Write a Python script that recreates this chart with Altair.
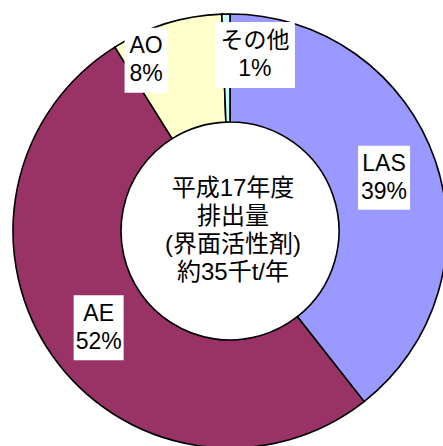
import math
import altair as alt
import pandas as pd

# ---- data ----
categories = ["LAS", "AE", "AO", "その他"]
values = [39.4, 51.7, 8.3, 0.6]
colors = ["#9999FF", "#993366", "#FFFFCC", "#CCFFFF"]
center_lines = ["平成17年度", "排出量", "(界面活性剤)", "約35千t/年"]

# ---- style / layout ----
W, H = 443, 446
CX, CY = 230, 231
R_OUT, R_IN = 217, 109
R_LABEL = (R_OUT + R_IN) / 2
label_offsets = {"LAS": (0, 0), "AE": (2, -3), "AO": (-36, 15), "その他": (28, 13)}
box_size = {"LAS": (52, 64), "AE": (50, 65), "AO": (43, 65), "その他": (80, 66)}
FONT = "Liberation Sans, Noto Sans CJK JP"
LH = 28

total = sum(values)
rows = []
cum = 0.0
for i, (c, v) in enumerate(zip(categories, values)):
    mid = (cum + v / 2) / total * 2 * math.pi
    cum += v
    ox, oy = label_offsets[c]
    lx = R_LABEL * math.sin(mid) + ox
    ly = R_LABEL * math.cos(mid) + oy
    bw, bh = box_size[c]
    rows.append({
        "cat": c, "value": v, "order": i,
        "label": f"{c}\n{round(v / total * 100)}%",
        "lx": lx, "ly": ly,
        "bx": lx - bw / 2, "bx2": lx + bw / 2,
        "by": ly - bh / 2, "by2": ly + bh / 2,
    })
df = pd.DataFrame(rows)

xs = alt.Scale(domain=[-CX, W - CX], nice=False, zero=False)
ys = alt.Scale(domain=[-(H - CY), CY], nice=False, zero=False)

base = alt.Chart(df)

arcs = base.mark_arc(stroke="black", strokeWidth=1.6).encode(
    theta=alt.Theta("value:Q", stack=True),
    order=alt.Order("order:Q"),
    color=alt.Color("cat:N", scale=alt.Scale(domain=categories, range=colors), legend=None),
    x=alt.value(CX), y=alt.value(CY),
    radius=alt.value(R_OUT), radius2=alt.value(R_IN),
)

boxes = base.mark_rect(color="white").encode(
    x=alt.X("bx:Q", scale=xs, axis=None),
    x2="bx2:Q",
    y=alt.Y("by:Q", scale=ys, axis=None),
    y2="by2:Q",
)

labels = base.mark_text(
    font=FONT, fontSize=23, color="black", lineBreak="\n", lineHeight=LH,
    align="center", baseline="middle", dy=-LH / 2,
).encode(
    x=alt.X("lx:Q", scale=xs, axis=None),
    y=alt.Y("ly:Q", scale=ys, axis=None),
    text="label:N",
)

center = alt.Chart(pd.DataFrame({"t": ["\n".join(center_lines)]})).mark_text(
    font=FONT, fontSize=24, color="black", lineBreak="\n", lineHeight=LH,
    align="center", baseline="middle", dy=-LH * (len(center_lines) - 1) / 2,
).encode(
    x=alt.value(CX + 3), y=alt.value(CY),
    text="t:N",
)

chart = alt.layer(arcs, boxes, labels, center).properties(
    width=W, height=H, padding=0, autosize=alt.AutoSizeParams(type="none"),
).configure_view(stroke=None)

chart.save("out.html", embed_options={"renderer": "svg", "actions": False})
